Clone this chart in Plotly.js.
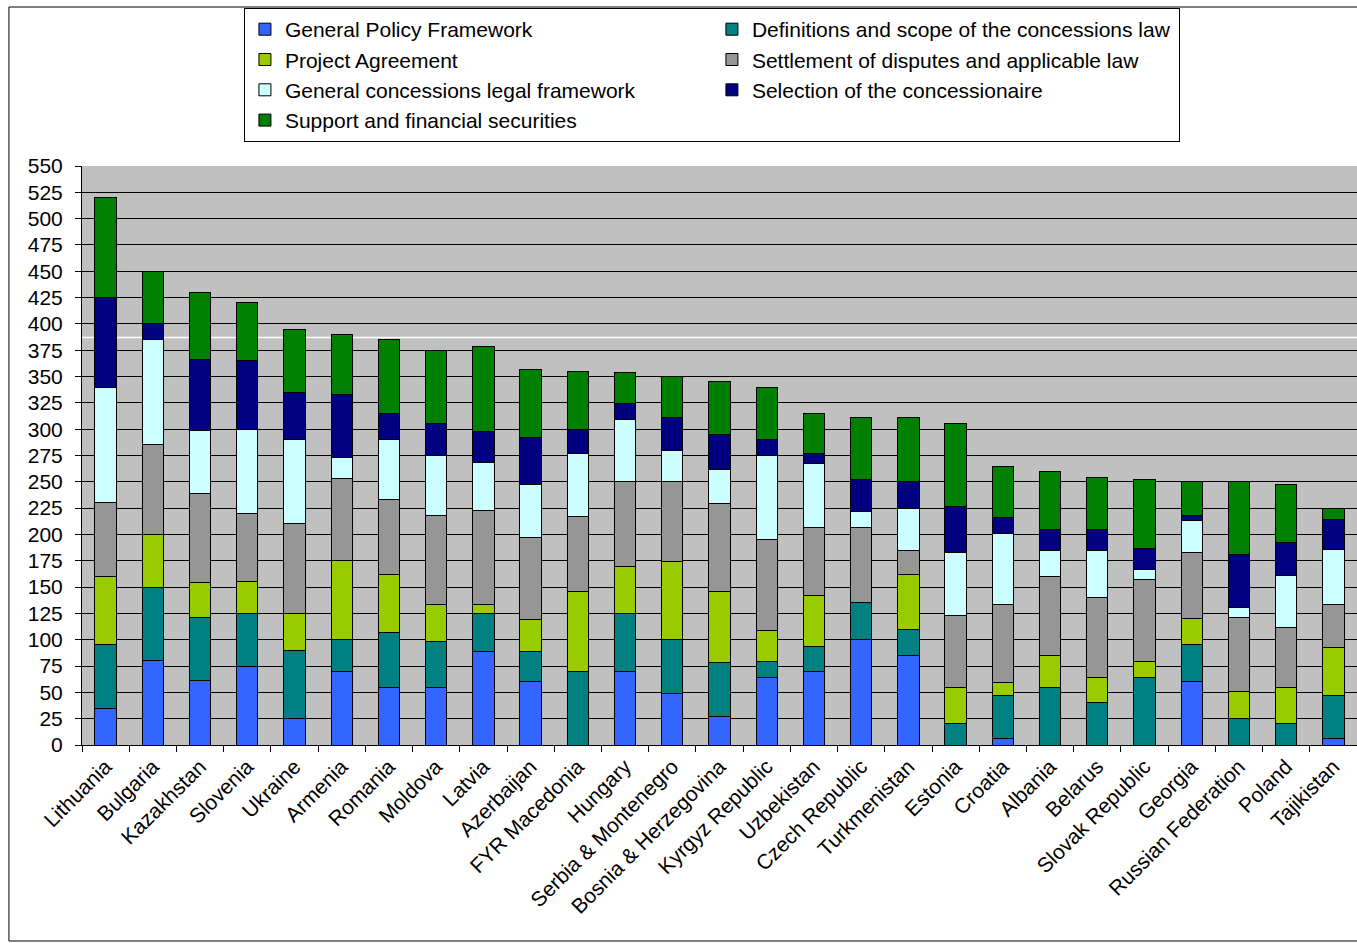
<!DOCTYPE html>
<html>
<head>
<meta charset="utf-8">
<script src="https://cdn.plot.ly/plotly-3.0.1.min.js"></script>
<style>html,body{margin:0;padding:0;background:#fff;}#chart{width:1357px;height:943px;}</style>
</head>
<body>
<div id="chart"></div>
<script>
const countries = ["Lithuania","Bulgaria","Kazakhstan","Slovenia","Ukraine","Armenia","Romania","Moldova","Latvia","Azerbaijan","FYR Macedonia","Hungary","Serbia & Montenegro","Bosnia & Herzegovina","Kyrgyz Republic","Uzbekistan","Czech Republic","Turkmenistan","Estonia","Croatia","Albania","Belarus","Slovak Republic","Georgia","Russian Federation","Poland","Tajikistan"];

const generalPolicy   = [35,80,61,75,25,70,55,55,89,60,0,70,49,27,64,70,100,85,0,6,0,0,0,60,0,0,6];
const definitions     = [60,70,60,50,65,30,52,43,36,29,70,55,51,51,15,24,35,25,20,41,55,40,64,35,25,20,41];
const projectAgr      = [65,50,33,30,35,75,55,35,8,30,76,45,74,68,30,48,0,52,35,12,30,24,15,25,26,35,46];
const settlement      = [70,85,85,65,85,78,71,85,90,78,71,80,76,83,86,65,72,23,68,74,75,76,78,63,70,57,40];
const legalFramework  = [110,100,60,80,80,20,57,57,45,50,60,59,30,33,80,60,15,40,60,68,25,45,10,30,10,49,53];
const selection       = [85,15,67,65,45,60,25,30,30,45,23,15,31,33,15,10,30,25,44,15,20,20,20,5,50,31,28];
const support         = [95,50,64,55,60,57,70,70,81,65,55,30,39,50,50,38,59,61,78,49,55,49,65,32,69,55,11];

const seriesNames = ["General Policy Framework","Definitions and scope of the concessions law","Project Agreement","Settlement of disputes and applicable law","General concessions legal framework","Selection of the concessionaire","Support and financial securities"];
const seriesData = [generalPolicy, definitions, projectAgr, settlement, legalFramework, selection, support];
const seriesColors = ["#3366FF","#008080","#99CC00","#969696","#CCFFFF","#000080","#008000"];

const traces = seriesNames.map((n,i)=>({
  type:"bar", name:n, x:countries, y:seriesData[i],
  marker:{color:seriesColors[i], line:{color:"#000", width:1}}
}));

const layout = {
  width:1357, height:943,
  barmode:"stack", bargap:0.55,
  font:{family:"Liberation Sans, Arial, sans-serif", color:"#000", size:21},
  paper_bgcolor:"#fff", plot_bgcolor:"#C0C0C0",
  margin:{l:82, r:0, t:166, b:198},
  showlegend:true,
  legend:{orientation:"h", x:0.127, xanchor:"left", y:1.2728, yanchor:"top",
    traceorder:"normal", entrywidth:422, font:{size:21},
    bordercolor:"#000", borderwidth:1, bgcolor:"#fff", itemwidth:30, tracegroupgap:0},
  xaxis:{type:"category", tickangle:-45, tickfont:{size:21}, ticks:"outside", tickson:"boundaries",
    ticklen:6, tickcolor:"#000", showline:true, linecolor:"#000", linewidth:1, showgrid:false},
  yaxis:{range:[0,550], dtick:25, tick0:0, tickfont:{size:21}, ticks:"outside", ticklen:6, tickcolor:"#000",
    ticklabelstandoff:8,
    showline:true, linecolor:"#000", linewidth:1, showgrid:true, gridcolor:"#000", gridwidth:1, zeroline:false},
  shapes:[
    {type:"line", xref:"paper", x0:0, x1:1, yref:"y", y0:387, y1:387, line:{color:"#fff", width:1.5}, layer:"below"},
    {type:"rect", xref:"paper", yref:"paper", x0:-0.0573, x1:1.01, y0:-0.3385, y1:1.2746, line:{color:"#000", width:1}, fillcolor:"rgba(0,0,0,0)"}
  ]
};

Plotly.newPlot("chart", traces, layout, {displayModeBar:false, staticPlot:true});
</script>
</body>
</html>
